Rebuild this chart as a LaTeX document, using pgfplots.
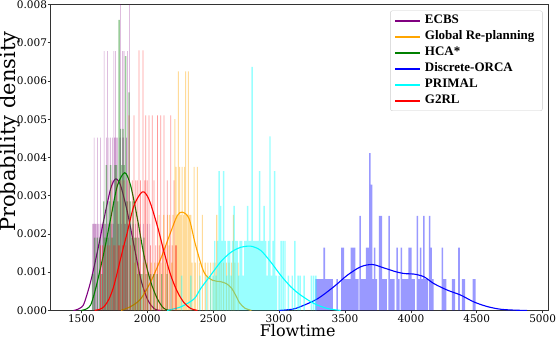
\documentclass[border=0pt]{standalone}
\usepackage{fontspec}
\setmainfont{DejaVu Serif}
\newfontfamily\legfont{Liberation Serif}
\usepackage{pgfplots}
\pgfplotsset{compat=1.18}

\definecolor{cecbs}{HTML}{800080}
\definecolor{cglob}{HTML}{FFA500}
\definecolor{chca}{HTML}{008000}
\definecolor{corca}{HTML}{0000FF}
\definecolor{cprim}{HTML}{00FFFF}
\definecolor{cg2rl}{HTML}{FF0000}

\pgfplotsset{
  hist/.style={ybar, bar shift=0pt, bar width=#1, draw=none, fill opacity=0.4, forget plot},
  kde/.style={line width=1.1pt, smooth, tension=0.5, no markers},
}

\begin{document}
\begin{tikzpicture}
\begin{axis}[
  scale only axis,
  width=498pt, height=306pt,
  xmin=1267, xmax=5045,
  ymin=0, ymax=0.008,
  xtick={1500,2000,2500,3000,3500,4000,4500,5000},
  ytick={0,0.001,0.002,0.003,0.004,0.005,0.006,0.007,0.008},
  scaled y ticks=false,
  tick pos=left,
  tick align=outside,
  major tick length=3pt,
  tick style={black!80, line width=0.7pt},
  axis line style={black!80, line width=0.7pt},
  tick label style={font=\fontsize{10.5}{12}\selectfont, /pgf/number format/assume math mode=true},
  xticklabel style={/pgf/number format/1000 sep={}, inner sep=1pt},
  yticklabel style={/pgf/number format/.cd, fixed, fixed zerofill, precision=3, /tikz/.cd, inner sep=0.5pt},
  xlabel={Flowtime},
  ylabel={Probability density},
  xlabel style={font=\fontsize{16}{18}\selectfont, at={(axis description cs:0.496,0)}, anchor=north, yshift=-11pt, inner xsep=0pt, inner ysep=3pt},
  ylabel style={font=\fontsize{21}{24}\selectfont, at={(axis description cs:-0.06,0.584)}, anchor=south, inner sep=0pt},
  legend style={at={(0.988,0.98)}, anchor=north east, draw=black!20, rounded corners=2pt,
    fill=white, fill opacity=0.8, text opacity=1,
    font=\legfont\bfseries\fontsize{13}{15}\selectfont,
    nodes={text height=9pt, text depth=3pt, inner ysep=2pt, inner xsep=4pt}, inner xsep=4pt},
  legend cell align=left,
  legend image code/.code={\draw[#1, line width=1.6pt] (0pt,0pt) -- (25pt,0pt);},
]

% ECBS
\addplot[hist=4.42, fill=cecbs] table {
x y
1585 0.00226
1590 0.00226
1596 0.00452
1603 0.00226
1610 0.00226
1617 0.00226
1621 0.00452
1628 0.00226
1640 0.00226
1646 0.00452
1652 0.00226
1659 0.00226
1666 0.00226
1672 0.00678
1678 0.00226
1684 0.00226
1690 0.00452
1697 0.00678
1703 0.00226
1709 0.00452
1716 0.00226
1722 0.00452
1728 0.00226
1735 0.00452
1741 0.00226
1747 0.00678
1753 0.00452
1760 0.00678
1766 0.00452
1773 0.00452
1779 0.00226
1785 0.00226
1792 0.00452
1798 0.00904
1805 0.00226
1811 0.00678
1817 0.00452
1823 0.00678
1830 0.00226
1836 0.00226
1842 0.00452
1849 0.00678
1855 0.00226
1866 0.00904
1874 0.00226
1885 0.00226
1895 0.00226
1910 0.00226
1925 0.00226
1945 0.00226
1970 0.00226
2000 0.00226
2020 0.00226
};
\addplot[kde, cecbs] coordinates {
(1440,0) (1457,0.00001) (1490,0.00006) (1520,0.00018) (1570,0.00075) (1621,0.00153)
(1672,0.0024) (1722,0.00318) (1760,0.00344) (1798,0.00326) (1849,0.00257)
(1899,0.0017) (1950,0.00083) (2000,0.0003) (2051,0.00005) (2100,0)
};
\addlegendentry{ECBS}

% Global Re-planning
\addplot[hist=8, fill=cglob] table {
x y
1905 0.00125
1935 0.00125
1970 0.00125
2000 0.00125
2030 0.00125
2055 0.00125
2075 0.00125
2090 0.0025
2105 0.00125
2125 0.0025
2140 0.00125
2155 0.0025
2170 0.0025
2185 0.00125
2195 0.0025
2210 0.005
2218 0.00375
2228 0.0025
2236 0.00625
2245 0.00375
2255 0.0025
2265 0.00375
2275 0.0025
2283 0.00375
2291 0.00625
2300 0.0025
2312 0.00625
2322 0.0025
2330 0.0025
2340 0.00125
2355 0.00375
2365 0.00125
2380 0.00375
2395 0.00125
2418 0.0025
2440 0.00125
2460 0.00125
2480 0.00125
2500 0.00125
2515 0.00125
2527 0.0025
2545 0.00125
2560 0.00125
2580 0.00125
2600 0.00125
2620 0.00125
2640 0.00125
2653 0.0025
2665 0.00125
2690 0.00125
};
\addplot[kde, cglob] coordinates {
(1800,0) (1874,0.0001) (1950,0.0003) (2026,0.00075) (2102,0.00135) (2178,0.00205)
(2228,0.00248) (2266,0.00257) (2317,0.0024) (2367,0.0017) (2430,0.001)
(2494,0.00079) (2557,0.00075) (2600,0.0007) (2640,0.00058) (2670,0.0004)
(2700,0.0002) (2740,0.00006) (2790,0)
};
\addlegendentry{Global Re-planning}

% HCA*
\addplot[hist=10.5, fill=chca] table {
x y
1585 0.00095
1600 0.0019
1620 0.0019
1640 0.0019
1655 0.00095
1670 0.00285
1680 0.0019
1690 0.0038
1700 0.0019
1712 0.00285
1722 0.0038
1735 0.0019
1745 0.00285
1755 0.0038
1765 0.0038
1775 0.00285
1786 0.0076
1796 0.00475
1806 0.0038
1816 0.00475
1826 0.0038
1836 0.00665
1848 0.00285
1861 0.0057
1872 0.00285
1882 0.0019
1893 0.00285
1905 0.0019
1915 0.0019
1925 0.00095
1935 0.0019
1948 0.00095
1960 0.00095
1975 0.0019
1990 0.00095
2005 0.00095
2025 0.00095
2050 0.00095
2075 0.00095
2110 0.00095
2150 0.00095
};
\addplot[kde, chca] coordinates {
(1500,0) (1540,0.00004) (1570,0.00014) (1595,0.0004) (1621,0.00075) (1672,0.00153)
(1722,0.0024) (1773,0.00326) (1829,0.0036) (1874,0.00326) (1925,0.0024)
(1975,0.00144) (2026,0.00075) (2077,0.0003) (2127,0.00005) (2178,0)
};
\addlegendentry{HCA*}

% Discrete-ORCA
\addplot[hist=12.16, fill=corca] table {
x y
3282 0.00082
3294 0.00082
3306 0.00082
3318 0.00082
3330 0.00082
3343 0.00164
3355 0.00082
3367 0.00082
3379 0.00082
3391 0.00082
3403 0.00082
3440 0.00082
3476 0.00164
3488 0.00164
3500 0.00082
3512 0.00082
3525 0.00082
3537 0.00082
3549 0.00164
3561 0.00164
3573 0.00164
3585 0.00082
3597 0.00082
3615 0.00247
3628 0.00082
3640 0.00082
3652 0.00082
3664 0.00164
3676 0.00164
3689 0.00411
3701 0.00329
3713 0.00082
3725 0.00164
3737 0.00082
3764 0.00247
3776 0.00247
3788 0.00082
3800 0.00082
3812 0.00082
3835 0.00247
3847 0.00082
3859 0.00082
3871 0.00082
3896 0.00164
3908 0.00082
3928 0.00164
3940 0.00082
3952 0.00082
3964 0.00082
3976 0.00082
3988 0.00164
4000 0.00164
4012 0.00082
4024 0.00082
4049 0.00247
4061 0.00082
4074 0.00164
4086 0.00082
4099 0.00247
4111 0.00082
4123 0.00082
4142 0.00247
4154 0.00164
4166 0.00082
4239 0.00164
4251 0.00082
4263 0.00082
4318 0.00082
4330 0.00082
4365 0.00164
4393 0.00082
4405 0.00082
4474 0.00082
4486 0.00082
};
\addplot[kde, corca] coordinates {
(3000,0) (3100,0.00003) (3164,0.0001) (3290,0.0003) (3416,0.00062) (3518,0.00092)
(3619,0.00114) (3708,0.0012) (3796,0.00111) (3897,0.001) (3960,0.00096)
(4023,0.00095) (4099,0.00088) (4175,0.0007) (4277,0.00053) (4378,0.0004)
(4479,0.00022) (4580,0.0001) (4681,0.00003) (4800,0.000005) (4883,0)
};
\addlegendentry{Discrete-ORCA}

% PRIMAL
\addplot[hist=11, fill=cprim] table {
x y
2180 0.00091
2260 0.00091
2330 0.00091
2400 0.00091
2450 0.00091
2480 0.00091
2500 0.00091
2512 0.00182
2523 0.00091
2534 0.00182
2545 0.00364
2557 0.00273
2568 0.00182
2580 0.00364
2591 0.00182
2602 0.00091
2614 0.00182
2625 0.00182
2636 0.00091
2648 0.00182
2659 0.00273
2670 0.00182
2682 0.00182
2693 0.00091
2705 0.00182
2716 0.00182
2727 0.00091
2740 0.00182
2750 0.00182
2762 0.00273
2773 0.00182
2784 0.00182
2795 0.00637
2806 0.00182
2818 0.00182
2830 0.00182
2841 0.00182
2853 0.00364
2864 0.00182
2875 0.00182
2886 0.00273
2898 0.00182
2909 0.00091
2920 0.00182
2931 0.00455
2943 0.00091
2955 0.00182
2967 0.00364
2980 0.00091
3000 0.00091
3015 0.00182
3030 0.00182
3045 0.00182
3070 0.00091
3100 0.00091
3120 0.00182
3145 0.00091
3160 0.00091
3190 0.00091
3245 0.00091
3262 0.00091
3280 0.00091
};
\addplot[kde, cprim] coordinates {
(2150,0) (2178,0.00002) (2260,0.0001) (2355,0.0003) (2405,0.00057) (2481,0.00092)
(2557,0.00127) (2620,0.00148) (2658,0.00157) (2709,0.00165) (2785,0.00168)
(2860,0.00157) (2936,0.00127) (3012,0.00092) (3088,0.00062) (3164,0.0004)
(3265,0.00018) (3366,0.00005) (3467,0)
};
\addlegendentry{PRIMAL}

% G2RL
\addplot[hist=5.85, fill=cg2rl] table {
x y
1645 0.0017
1660 0.0017
1680 0.0017
1700 0.0017
1715 0.0017
1730 0.0034
1745 0.0017
1755 0.0017
1770 0.0034
1782 0.0017
1790 0.0017
1800 0.0034
1812 0.0017
1824 0.0034
1836 0.0017
1848 0.0034
1861 0.0051
1873 0.0017
1886 0.0034
1899 0.0051
1912 0.0034
1924 0.0034
1937 0.0068
1949 0.0034
1968 0.0068
1980 0.0034
1988 0.0051
2000 0.0034
2013 0.0051
2025 0.0017
2038 0.0051
2051 0.0034
2064 0.0017
2077 0.0051
2090 0.0017
2102 0.0051
2115 0.0017
2127 0.0051
2140 0.0017
2152 0.0034
2165 0.0017
2178 0.0051
2190 0.0017
2203 0.0034
2215 0.0017
2222 0.0017
};
\addplot[kde, cg2rl] coordinates {
(1600,0) (1640,0.00003) (1672,0.0001) (1710,0.0003) (1748,0.00066) (1798,0.00136)
(1849,0.00205) (1899,0.00274) (1963,0.0031) (2013,0.0029) (2077,0.0022)
(2127,0.00153) (2178,0.00092) (2228,0.00049) (2279,0.0002) (2330,0.00005) (2380,0)
};
\addlegendentry{G2RL}

\end{axis}
\end{tikzpicture}
\end{document}
